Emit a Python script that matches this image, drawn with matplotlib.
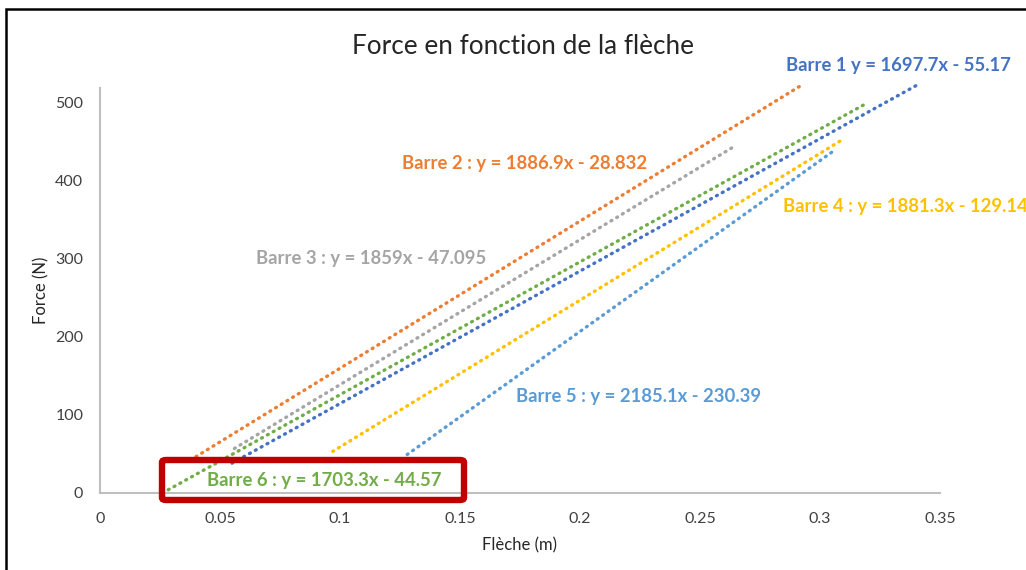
import matplotlib.pyplot as plt
from matplotlib.patches import Rectangle, FancyBboxPatch

plt.rcParams['font.family'] = ['Lato', 'DejaVu Sans']

# trendline end points (x in m, y in N)
noms = ['Barre 1', 'Barre 2', 'Barre 3', 'Barre 4', 'Barre 5', 'Barre 6']
x_debut = [0.055, 0.040, 0.056, 0.097, 0.128, 0.026]
x_fin = [0.340, 0.292, 0.265, 0.309, 0.305, 0.318]
y_debut = [38.2, 46.6, 57.0, 53.3, 49.3, 0.0]
y_fin = [522.0, 522.0, 445.5, 452.2, 436.9, 497.0]
equations = ['Barre 1 y = 1697.7x - 55.17',
             'Barre 2 : y = 1886.9x - 28.832',
             'Barre 3 : y = 1859x - 47.095',
             'Barre 4 : y = 1881.3x - 129.14',
             'Barre 5 : y = 2185.1x - 230.39',
             'Barre 6 : y = 1703.3x - 44.57']
couleurs = ['#4472C4', '#ED7D31', '#A5A5A5', '#FFC000', '#5B9BD5', '#70AD47']
# label anchors (data coords, left / centre)
pos_labels = [(0.2858, 548), (0.1258, 422), (0.065, 301), (0.2846, 367), (0.1733, 124), (0.0446, 16.5)]

x_ticks = [0, 0.05, 0.1, 0.15, 0.2, 0.25, 0.3, 0.35]
x_ticklabels = ['0', '0.05', '0.1', '0.15', '0.2', '0.25', '0.3', '0.35']
y_ticks = [0, 100, 200, 300, 400, 500]

fig = plt.figure(figsize=(10.26, 5.70), dpi=100)
ax = fig.add_axes([100 / 1026, 1 - 493 / 570, 840 / 1026, 405 / 570])

for i in range(len(noms)):
    ax.plot([x_debut[i], x_fin[i]], [y_debut[i], y_fin[i]], color=couleurs[i],
            lw=2.4, linestyle=(0, (0.3, 1.7)), dash_capstyle='round', clip_on=False)
    ax.text(pos_labels[i][0], pos_labels[i][1], equations[i], color=couleurs[i],
            fontsize=13.3, fontweight='bold', ha='left', va='center', clip_on=False)

ax.set_xlim(0, 0.35)
ax.set_ylim(0, 519)
ax.set_xticks(x_ticks)
ax.set_xticklabels(x_ticklabels)
ax.set_yticks(y_ticks)
ax.tick_params(length=0, labelsize=11.5, colors='#404040', pad=12)
ax.tick_params(axis='x', pad=14)
for s in ['top', 'right']:
    ax.spines[s].set_visible(False)
for s in ['left', 'bottom']:
    ax.spines[s].set_color('#BFBFBF')
    ax.spines[s].set_linewidth(1.5)

ax.set_xlabel('Flèche (m)', fontsize=12, color='#262626', labelpad=8)
ax.set_ylabel('Force (N)', fontsize=12, color='#262626', labelpad=4)
fig.text(523 / 1026, 1 - 46 / 570, 'Force en fonction de la flèche', fontsize=18.8,
         color='#262626', ha='center', va='center')

# red highlight box around Barre 6
boite = FancyBboxPatch((162 / 1026, 1 - 500 / 570), 302 / 1026, 40 / 570,
                       boxstyle='round,pad=0,rounding_size=0.004', transform=fig.transFigure,
                       fill=False, edgecolor='#C00000', linewidth=4.6, clip_on=False)
fig.add_artist(boite)

# outer black frame
cadre = Rectangle((6 / 1026, -0.2), 1.2, 1.2 - 9 / 570, transform=fig.transFigure,
                  fill=False, edgecolor='black', linewidth=1.8, clip_on=False)
fig.add_artist(cadre)

fig.savefig('out.png', dpi=100)
